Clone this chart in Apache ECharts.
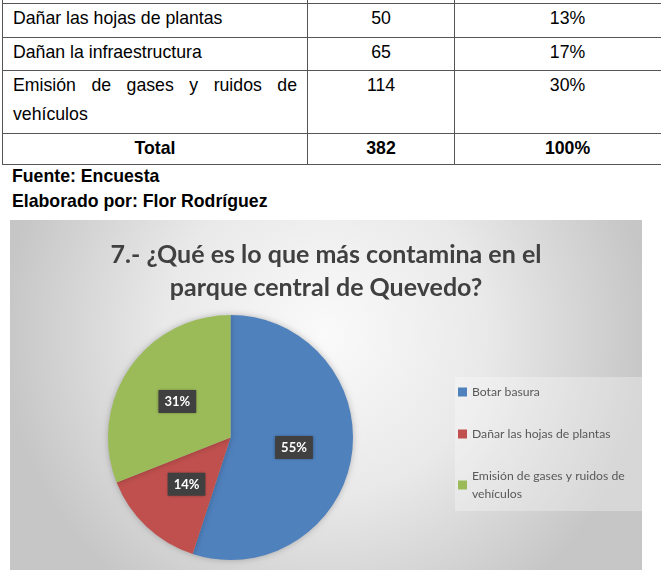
<!DOCTYPE html>
<html>
<head>
<meta charset="utf-8">
<script src="https://cdn.jsdelivr.net/npm/echarts@6/dist/echarts.min.js"></script>
<style>
body{margin:0;width:661px;height:570px;overflow:hidden;background:#fff;position:relative;font-family:'Liberation Sans',Arial,sans-serif;}
.tabla{position:absolute;left:2px;top:-30px;width:702px;border-collapse:collapse;font-size:17.7px;color:#000;table-layout:fixed;}
.tabla td{border:1px solid #555;vertical-align:top;padding:0;line-height:24px;}
.tabla td.c1{padding:2px 10px 0 10px;text-align:justify;}
.tabla td.cn{text-align:center;padding-top:2px;}
.tabla tr.multi td{line-height:29px;padding-top:0;}
.tabla tr.tot td{font-weight:bold;text-align:center;padding-top:0;line-height:28px;}
.nota{position:absolute;left:12px;font-weight:bold;font-size:17.7px;}
#grafico{position:absolute;left:10px;top:220px;width:632px;height:350px;}
</style>
</head>
<body>
<table class="tabla" id="tabla"></table>
<div class="nota" style="top:166px">Fuente: Encuesta</div>
<div class="nota" style="top:191px">Elaborado por: Flor Rodríguez</div>
<div id="grafico"></div>
<script>
// tabla (parte visible)
var filasTabla = ['Dañar las hojas de plantas', 'Dañan la infraestructura', 'Emisión de gases y  ruidos de vehículos'];
var frecuencias = [50, 65, 114];
var porcentajesTabla = ['13%', '17%', '30%'];
var totalTabla = ['Total', '382', '100%'];

// grafico
var categorias = ['Botar basura', 'Dañar las hojas de plantas', 'Emisión de gases y ruidos de vehículos'];
var valores = [55, 14, 31];
var colores = ['#4f81bd', '#c0504d', '#9bbb59'];

var tabla = document.getElementById('tabla');
var html = '<colgroup><col style="width:305px"><col style="width:147px"><col style="width:250px"></colgroup>';
html += '<tr style="height:33px"><td></td><td></td><td></td></tr>';
var alturas = [34, 33, 63];
for (var i = 0; i < filasTabla.length; i++) {
    html += '<tr class="' + (i == 2 ? 'multi' : '') + '" style="height:' + alturas[i] + 'px">' +
        '<td class="c1">' + filasTabla[i] + '</td>' +
        '<td class="cn">' + frecuencias[i] + '</td>' +
        '<td class="cn" style="padding-right:24px">' + porcentajesTabla[i] + '</td></tr>';
}
html += '<tr class="tot" style="height:31px"><td>' + totalTabla[0] + '</td><td>' + totalTabla[1] + '</td><td style="padding-right:24px">' + totalTabla[2] + '</td></tr>';
tabla.innerHTML = html;

var myChart = echarts.init(document.getElementById('grafico'));

var option = {
    graphic: [{
        type: 'rect',
        z: -10,
        silent: true,
        shape: {x: 0, y: 0, width: 632, height: 380},
        style: {
            fill: new echarts.graphic.RadialGradient(0.5, 0.3, 0.85, [
                {offset: 0, color: '#fafafa'},
                {offset: 0.5, color: '#e9e9e9'},
                {offset: 1, color: '#c6c6c6'}
            ])
        }
    }],
    title: {
        text: '7.- ¿Qué es lo que más contamina en el\nparque central de Quevedo?',
        left: 'center',
        top: 13,
        textStyle: {
            fontFamily: 'Lato',
            fontWeight: 'bold',
            fontSize: 25,
            lineHeight: 33,
            color: '#404040'
        }
    },
    legend: {
        orient: 'vertical',
        left: 445,
        top: 157,
        data: categorias,
        icon: 'rect',
        itemWidth: 9,
        itemHeight: 9,
        itemGap: 24,
        padding: [6, 4, 8, 3],
        backgroundColor: 'rgba(255,255,255,0.3)',
        textStyle: {
            fontFamily: 'Lato',
            fontSize: 12.2,
            color: '#595959',
            width: 168,
            overflow: 'break',
            lineHeight: 18
        }
    },
    series: [{
        type: 'pie',
        radius: 122.5,
        center: [220.5, 217.5],
        startAngle: 90,
        clockwise: true,
        silent: true,
        data: categorias.map(function (c, i) {
            return {name: c, value: valores[i], itemStyle: {color: colores[i]}};
        }),
        itemStyle: {
            shadowBlur: 6,
            shadowColor: 'rgba(0,0,0,0.25)'
        },
        label: {
            position: 'inside',
            formatter: '{c}%',
            color: '#fff',
            fontFamily: 'Lato',
            fontWeight: 'bold',
            fontSize: 13,
            backgroundColor: '#404040',
            padding: [5, 6, 5, 6],
            shadowBlur: 3,
            shadowColor: 'rgba(0,0,0,0.4)'
        },
        labelLine: {show: false}
    }]
};

myChart.setOption(option);
</script>
</body>
</html>
